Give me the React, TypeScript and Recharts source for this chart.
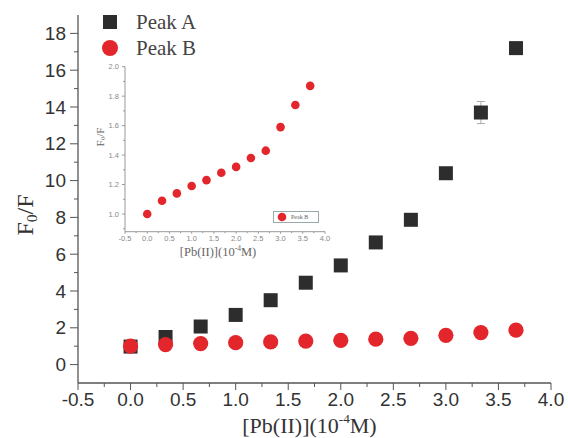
import React from 'react';
import { ScatterChart, Scatter, XAxis, YAxis, Legend, Label, ErrorBar } from 'recharts';

// [Pb(II)] concentrations (10^-4 M)
const concentrations = [0, 0.333, 0.667, 1.0, 1.333, 1.667, 2.0, 2.333, 2.667, 3.0, 3.333, 3.667];
const peakA = [0.98, 1.5, 2.07, 2.7, 3.5, 4.45, 5.39, 6.64, 7.87, 10.4, 13.7, 17.2];
const peakAErr = [0, 0, 0, 0, 0, 0, 0, 0, 0, 0, 0.6, 0];
const peakB = [1.0, 1.09, 1.14, 1.19, 1.23, 1.28, 1.32, 1.38, 1.43, 1.59, 1.74, 1.87];

const mainYTicks = [0, 1, 2, 3, 4, 5, 6, 7, 8, 9, 10, 11, 12, 13, 14, 15, 16, 17, 18];
const mainXTicks = [-0.5, -0.25, 0, 0.25, 0.5, 0.75, 1, 1.25, 1.5, 1.75, 2, 2.25, 2.5, 2.75, 3, 3.25, 3.5, 3.75, 4];
const insetYTicks = [0.9, 1.0, 1.1, 1.2, 1.3, 1.4, 1.5, 1.6, 1.7, 1.8, 1.9, 2.0];

const dataA = concentrations.map((x, i) => ({ x, y: peakA[i], err: peakAErr[i] }));
const dataB = concentrations.map((x, i) => ({ x, y: peakB[i] }));

const SQUARE = '#2d2d2d';
const RED = '#e3262b';
const SANS = '"Liberation Sans", Arial, sans-serif';
const SERIF = '"Liberation Serif", "Times New Roman", serif';

const isMult = (v: number, step: number) => Math.abs(v / step - Math.round(v / step)) < 1e-6;

const makeYTick = (step: number, big: number, small: number, gap: number, fs: number, color: string, fill: string) =>
  (props: any) => {
    const { x, y, payload } = props;
    const major = isMult(payload.value, step);
    return (
      <g>
        <line x1={x} x2={x - (major ? big : small)} y1={y} y2={y} stroke={color} strokeWidth={1} />
        {major && (
          <text x={x - big - gap} y={y} textAnchor="end" dominantBaseline="central" fontSize={fs} fontFamily={SANS} fill={fill}>
            {payload.value.toFixed(step < 1 ? 1 : 0)}
          </text>
        )}
      </g>
    );
  };

const makeXTick = (big: number, small: number, gap: number, fs: number, color: string, fill: string) =>
  (props: any) => {
    const { x, y, payload } = props;
    const major = isMult(payload.value, 0.5);
    return (
      <g>
        <line x1={x} x2={x} y1={y} y2={y + (major ? big : small)} stroke={color} strokeWidth={1} />
        {major && (
          <text x={x} y={y + big + gap} textAnchor="middle" dominantBaseline="hanging" fontSize={fs} fontFamily={SANS} fill={fill}>
            {payload.value.toFixed(1)}
          </text>
        )}
      </g>
    );
  };

const SquareDot = (props: any) => (
  <rect x={props.cx - 7} y={props.cy - 7} width={14} height={14} fill={SQUARE} />
);
const RedDot = (props: any) => <circle cx={props.cx} cy={props.cy} r={7.6} fill={RED} />;
const SmallRedDot = (props: any) => <circle cx={props.cx} cy={props.cy} r={4.3} fill={RED} />;

const MainLegend = () => (
  <div style={{ fontFamily: SERIF, fontSize: 21, color: '#444', lineHeight: '26px' }}>
    <div style={{ display: 'flex', alignItems: 'center' }}>
      <svg width={18} height={18}><rect x={2} y={2} width={14} height={14} fill={SQUARE} /></svg>
      <span style={{ marginLeft: 17 }}>Peak A</span>
    </div>
    <div style={{ display: 'flex', alignItems: 'center' }}>
      <svg width={18} height={18}><circle cx={9} cy={9} r={8} fill={RED} /></svg>
      <span style={{ marginLeft: 17 }}>Peak B</span>
    </div>
  </div>
);

const InsetLegend = () => (
  <div style={{ border: '1px solid #9aa', width: 44, height: 10, display: 'flex', alignItems: 'center', fontFamily: SERIF, fontSize: 6, color: '#666' }}>
    <svg width={14} height={10}><circle cx={8} cy={5} r={4.3} fill={RED} /></svg>
    <span style={{ marginLeft: 3 }}>Peak B</span>
  </div>
);

const YTitle = (x: number, y: number, fs: number, fill: string) => (
  <text x={x} y={y} transform={`rotate(-90 ${x} ${y})`} textAnchor="middle" dominantBaseline="central" fontFamily={SERIF} fontSize={fs} fill={fill}>
    F<tspan fontSize={fs * 0.65} dy={fs * 0.25}>0</tspan>
    <tspan dy={-fs * 0.25}>/F</tspan>
  </text>
);

const XTitle = (x: number, y: number, fs: number, fill: string) => (
  <text x={x} y={y} textAnchor="middle" dominantBaseline="central" fontFamily={SERIF} fontSize={fs} fill={fill}>
    [Pb(II)](10<tspan fontSize={fs * 0.6} dy={-fs * 0.3}>-4</tspan>
    <tspan dy={fs * 0.3}>M)</tspan>
  </text>
);

export default function App() {
  return (
    <div style={{ position: 'absolute', left: 0, top: 0, width: 568, height: 438, background: '#fff' }}>
      <ScatterChart width={568} height={438} margin={{ top: 15, right: 17, bottom: 0, left: 0 }}>
        <XAxis
          type="number"
          dataKey="x"
          domain={[-0.5, 4]}
          ticks={mainXTicks}
          interval={0}
          height={55}
          tickSize={0}
          tickMargin={0}
          tickLine={false}
          stroke="#555"
          strokeWidth={1.3}
          tick={makeXTick(7, 4, 2, 19, '#555', '#333')}
        >
          <Label content={(p: any) => XTitle(p.viewBox.x + p.viewBox.width / 2 - 5, 425, 22, '#333')} />
        </XAxis>
        <YAxis
          type="number"
          dataKey="y"
          domain={[-1, 19]}
          ticks={mainYTicks}
          interval={0}
          width={78}
          tickSize={0}
          tickMargin={0}
          tickLine={false}
          stroke="#555"
          strokeWidth={1.3}
          tick={makeYTick(2, 8, 4, 4, 19, '#555', '#333')}
        >
          <Label content={() => YTitle(25, 215, 24, '#333')} />
        </YAxis>
        <Legend
          layout="horizontal"
          verticalAlign="middle"
          align="center"
          wrapperStyle={{ left: 101, top: 9, width: 120 }}
          content={() => <MainLegend />}
        />
        <Scatter name="Peak A" data={dataA} shape={SquareDot} isAnimationActive={false}>
          <ErrorBar dataKey="err" direction="y" width={4} stroke="#aaa" strokeWidth={1} />
        </Scatter>
        <Scatter name="Peak B" data={dataB} shape={RedDot} isAnimationActive={false} />
      </ScatterChart>

      <div style={{ position: 'absolute', left: 85, top: 55 }}>
        <ScatterChart width={250} height={210} margin={{ top: 11.7, right: 10, bottom: 0, left: 0 }}>
          <XAxis
            type="number"
            dataKey="x"
            domain={[-0.5, 4]}
            ticks={mainXTicks}
            interval={0}
            height={33.3}
            tickSize={0}
            tickMargin={0}
            tickLine={false}
            stroke="#999"
            tick={makeXTick(2, 1.5, 1.5, 7.5, '#999', '#888')}
          >
            <Label content={(p: any) => XTitle(p.viewBox.x + p.viewBox.width / 2 - 7, 197, 12.5, '#666')} />
          </XAxis>
          <YAxis
            type="number"
            dataKey="y"
            domain={[0.88, 2.0]}
            ticks={insetYTicks}
            interval={0}
            width={40}
            tickSize={0}
            tickMargin={0}
            tickLine={false}
            stroke="#999"
            tick={makeYTick(0.2, 3, 2, 3, 7.5, '#999', '#888')}
          >
            <Label content={() => YTitle(15, 82, 11, '#666')} />
          </YAxis>
          <Legend
            layout="horizontal"
            verticalAlign="middle"
            align="center"
            wrapperStyle={{ left: 188, top: 156, width: 48 }}
            content={() => <InsetLegend />}
          />
          <Scatter name="Peak B" data={dataB} shape={SmallRedDot} isAnimationActive={false} />
        </ScatterChart>
      </div>
    </div>
  );
}
